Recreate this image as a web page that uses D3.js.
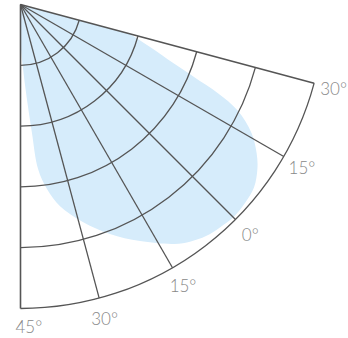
<!DOCTYPE html>
<html>
<head>
<meta charset="utf-8">
<script src="https://cdn.jsdelivr.net/npm/d3@7"></script>
<style>
  body { margin: 0; background: #fff; }
  svg { display: block; }
</style>
</head>
<body>
<svg id="chart" width="348" height="338"></svg>
<script>
// angle ticks (degrees) and radial rings
const angleTicks = [45, 30, 15, 0, -15, -30];
const rings = [1, 2, 3, 4, 5];

// shaded region: [angle, radius] pairs
const regionAngle = [-33, -31, -26.8, -24, -22.3, -20.8, -19, -15.9, -12.8, -10.3, -6.9, -3.5, 0, 3.1, 6.3, 9.3, 12.3, 18.2, 23.7, 29, 33.9, 36.8, 38.9, 39.9, 41.1, 43, 47, 0];
const regionRadius = [0.9, 1.7, 2.25, 2.69, 3.1, 3.56, 3.97, 4.35, 4.59, 4.74, 4.88, 4.93, 4.95, 4.92, 4.88, 4.8, 4.68, 4.36, 4.05, 3.72, 3.38, 3.07, 2.72, 2.12, 1.57, 1.0, 0.4, 0];

const svg = d3.select("#chart");
const g = svg.append("g").attr("transform", "translate(20.5,4.5)");

const deg = Math.PI / 180;
const angle = d3.scaleLinear().domain([-30, 45]).range([105 * deg, 180 * deg]);
const radius = d3.scaleLinear().domain([0, 5]).range([0, 304]);

// clip to the sector
const sector = d3.arc()
  .innerRadius(0)
  .outerRadius(radius(5))
  .startAngle(angle(-30))
  .endAngle(angle(45));

svg.append("defs").append("clipPath").attr("id", "sector")
  .append("path").attr("d", sector());

const region = d3.zip(regionAngle, regionRadius);
g.append("path")
  .attr("clip-path", "url(#sector)")
  .attr("d", d3.lineRadial()
    .angle((d) => angle(d[0]))
    .radius((d) => radius(d[1]))
    .curve(d3.curveCatmullRomClosed)(region))
  .attr("fill", "#d6ecfb");

const stroke = "#555";

// rings
rings.forEach((r) => {
  g.append("path")
    .attr("d", d3.arc()
      .innerRadius(radius(r))
      .outerRadius(radius(r))
      .startAngle(angle(-30))
      .endAngle(angle(45))())
    .attr("fill", "none")
    .attr("stroke", stroke)
    .attr("stroke-width", 1.3);
});

// spokes
angleTicks.forEach((a) => {
  const t = angle(a);
  g.append("line")
    .attr("x1", 0).attr("y1", 0)
    .attr("x2", radius(5) * Math.sin(t))
    .attr("y2", -radius(5) * Math.cos(t))
    .attr("stroke", stroke)
    .attr("stroke-width", (a === 45 || a === -30) ? 1.6 : 1.3);
});

// labels
angleTicks.forEach((a) => {
  const t = angle(a);
  const rr = radius(5) + 21;
  let x = rr * Math.sin(t);
  let y = -rr * Math.cos(t);
  const txt = g.append("text")
    .attr("text-anchor", "middle")
    .attr("dominant-baseline", "central")
    .style("font-family", "Lato, sans-serif")
    .style("font-weight", 300)
    .style("font-size", "17px")
    .attr("fill", "#888")
    .text(Math.abs(a) + "°");
  const w = txt.node().getComputedTextLength();
  // keep inside the frame
  x = Math.max(x, w / 2 - 5);
  x = Math.min(x, 348 - 20.5 - w / 2 - 1);
  y = Math.min(y, 338 - 4.5 - 12);
  txt.attr("x", x).attr("y", y);
});
</script>
</body>
</html>
